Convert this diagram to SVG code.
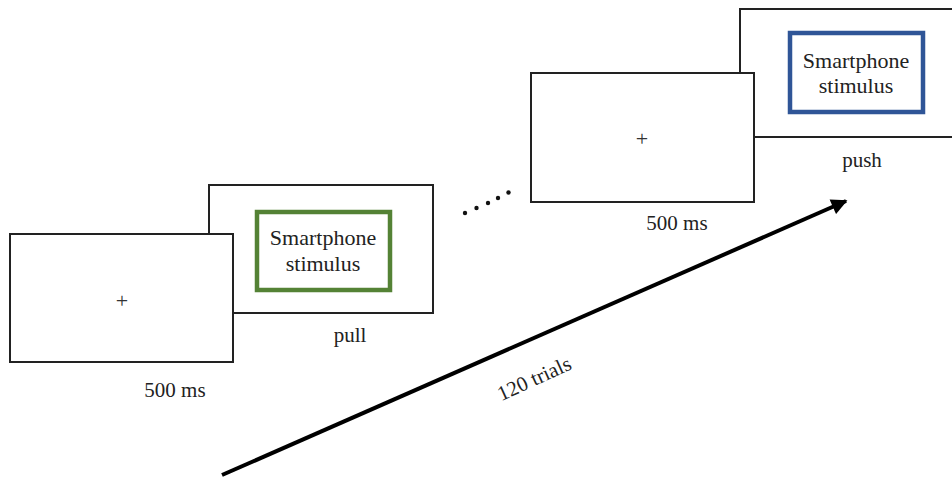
<svg xmlns="http://www.w3.org/2000/svg" width="952" height="477" viewBox="0 0 952 477">
  <style>
    .screen { fill: #ffffff; stroke: #222222; stroke-width: 2; }
    .stim-green { fill: none; stroke: #548235; stroke-width: 4.5; }
    .stim-blue { fill: none; stroke: #2f5597; stroke-width: 4.5; }
    text { font-family: "Liberation Serif", "DejaVu Serif", serif; fill: #222222; }
    .label { font-size: 21px; text-anchor: middle; }
    .stim { font-size: 22px; text-anchor: middle; }
    .cross { font-size: 22px; text-anchor: middle; fill: #333333; }
  </style>
  <defs>
    <marker id="arrowhead" viewBox="0 0 10 10" refX="9" refY="5" markerWidth="4.2" markerHeight="4" orient="auto" markerUnits="strokeWidth">
      <path d="M0,0 L10,5 L0,10 Z" fill="#000000"/>
    </marker>
  </defs>
  <rect width="952" height="477" fill="#ffffff"/>

  <!-- trial 1: stimulus screen (pull) -->
  <g id="pull-screen">
    <rect class="screen" x="209" y="185" width="224" height="128"/>
    <rect class="stim-green" x="257" y="212" width="133" height="78"/>
    <text class="stim" x="323" y="245">Smartphone</text>
    <text class="stim" x="323" y="271">stimulus</text>
    <text class="label" x="350" y="342">pull</text>
  </g>

  <!-- trial 1: fixation screen -->
  <g id="fixation-1">
    <rect class="screen" x="10" y="234" width="223" height="128"/>
    <text class="cross" x="122" y="308">+</text>
    <text class="label" x="175" y="397">500 ms</text>
  </g>

  <!-- trial n: stimulus screen (push) -->
  <g id="push-screen">
    <rect class="screen" x="740" y="9" width="230" height="128"/>
    <rect class="stim-blue" x="790" y="33" width="133" height="79"/>
    <text class="stim" x="856" y="68">Smartphone</text>
    <text class="stim" x="856" y="93">stimulus</text>
    <text class="label" x="862" y="167">push</text>
  </g>

  <!-- trial n: fixation screen -->
  <g id="fixation-n">
    <rect class="screen" x="531" y="73" width="223" height="129"/>
    <text class="cross" x="642" y="146">+</text>
    <text class="label" x="677" y="230">500 ms</text>
  </g>

  <!-- ellipsis between trials -->
  <g id="ellipsis" fill="#111111">
    <circle cx="465" cy="213" r="2.2"/>
    <circle cx="476.5" cy="208" r="2.2"/>
    <circle cx="488" cy="203" r="2.2"/>
    <circle cx="498" cy="198" r="2.2"/>
    <circle cx="508.5" cy="192.5" r="2.2"/>
  </g>

  <!-- time axis -->
  <g id="connectors">
    <line x1="222" y1="475" x2="846" y2="201" stroke="#000000" stroke-width="4" marker-end="url(#arrowhead)"/>
    <text class="label" x="537" y="385" transform="rotate(-24.4 537 385)">120 trials</text>
  </g>
</svg>
